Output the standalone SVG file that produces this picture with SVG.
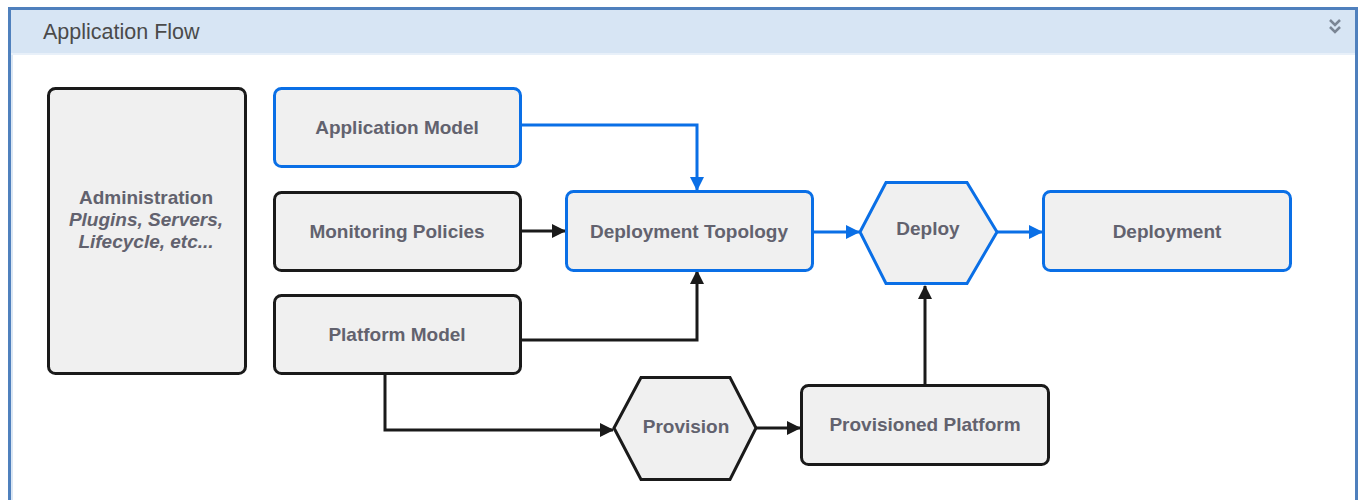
<svg xmlns="http://www.w3.org/2000/svg" width="1361" height="500" viewBox="0 0 1361 500">
  <style>
    .node { fill: #f0f0f0; stroke-width: 3; }
    .dark { stroke: #1a1a1a; }
    .blue { stroke: #0a6fe6; }
    .label { font-family: "Liberation Sans", Arial, sans-serif; font-size: 19px; font-weight: bold; fill: #62626e; text-anchor: middle; }
    .wire { fill: none; stroke-width: 3; }
    .wire.dark { marker-end: url(#arrow-dark); }
    .wire.blue { marker-end: url(#arrow-blue); }
  </style>
  <defs>
    <marker id="arrow-dark" markerUnits="userSpaceOnUse" markerWidth="16" markerHeight="16" viewBox="0 0 16 16" refX="14" refY="8" orient="auto">
      <path d="M1,1 L15,8 L1,15 Z" fill="#1a1a1a"/>
    </marker>
    <marker id="arrow-blue" markerUnits="userSpaceOnUse" markerWidth="16" markerHeight="16" viewBox="0 0 16 16" refX="14" refY="8" orient="auto">
      <path d="M1,1 L15,8 L1,15 Z" fill="#0a6fe6"/>
    </marker>
  </defs>

  <!-- panel frame -->
  <rect x="0" y="0" width="1361" height="500" fill="#ffffff"/>
  <rect x="11" y="10" width="1344" height="43" fill="#d7e5f4"/>
  <rect x="11" y="53" width="1344" height="2" fill="#e8f0f9"/>
  <rect x="11" y="55" width="2" height="445" fill="#dbe7f4"/>
  <path d="M9.5,500 V8.5 H1356.5 V500" fill="none" stroke="#4f80bd" stroke-width="3"/>
  <text x="43" y="39" font-family="'Liberation Sans', Arial, sans-serif" font-size="21.5px" fill="#4a4a4a">Application Flow</text>
  <g id="collapse-icon" fill="none" stroke="#7a8594" stroke-width="2.5">
    <path d="M1330,20 L1335,25 L1340,20"/>
    <path d="M1330,27 L1335,32 L1340,27"/>
  </g>

  <!-- connectors -->
  <g id="connectors">
    <path class="wire blue" d="M520,125 H697 V190"/>
    <path class="wire dark" d="M520,231 H565"/>
    <path class="wire dark" d="M520,340 H697 V271"/>
    <path class="wire blue" d="M812,232 H859"/>
    <path class="wire blue" d="M997,232 H1042"/>
    <path class="wire dark" d="M385,374 V430 H613"/>
    <path class="wire dark" d="M755,428 H800"/>
    <path class="wire dark" d="M925,385 V286"/>
  </g>

  <!-- nodes -->
  <g id="administration">
    <rect class="node dark" x="48.5" y="88.5" width="197" height="285" rx="7"/>
    <text class="label" x="146" y="204">Administration</text>
    <text class="label" x="146" y="226" font-style="italic">Plugins, Servers,</text>
    <text class="label" x="146" y="248" font-style="italic">Lifecycle, etc...</text>
  </g>
  <g id="application-model">
    <rect class="node blue" x="274.5" y="88.5" width="246" height="78" rx="7"/>
    <text class="label" x="397" y="134">Application Model</text>
  </g>
  <g id="monitoring-policies">
    <rect class="node dark" x="274.5" y="192.5" width="246" height="78" rx="7"/>
    <text class="label" x="397" y="238">Monitoring Policies</text>
  </g>
  <g id="platform-model">
    <rect class="node dark" x="274.5" y="295.5" width="246" height="78" rx="7"/>
    <text class="label" x="397" y="341">Platform Model</text>
  </g>
  <g id="deployment-topology">
    <rect class="node blue" x="566.5" y="191.5" width="246" height="79" rx="7"/>
    <text class="label" x="689" y="238">Deployment Topology</text>
  </g>
  <g id="deploy">
    <polygon class="node blue" points="860,232 886,182.5 967,182.5 997,232 967,283.5 886,283.5"/>
    <text class="label" x="928" y="235">Deploy</text>
  </g>
  <g id="deployment">
    <rect class="node blue" x="1043.5" y="191.5" width="247" height="79" rx="7"/>
    <text class="label" x="1167" y="238">Deployment</text>
  </g>
  <g id="provision">
    <polygon class="node dark" points="614,428 641,377.5 730,377.5 756,428 730,479.5 641,479.5"/>
    <text class="label" x="686" y="433">Provision</text>
  </g>
  <g id="provisioned-platform">
    <rect class="node dark" x="801.5" y="385.5" width="247" height="79" rx="7"/>
    <text class="label" x="925" y="431">Provisioned Platform</text>
  </g>
</svg>
